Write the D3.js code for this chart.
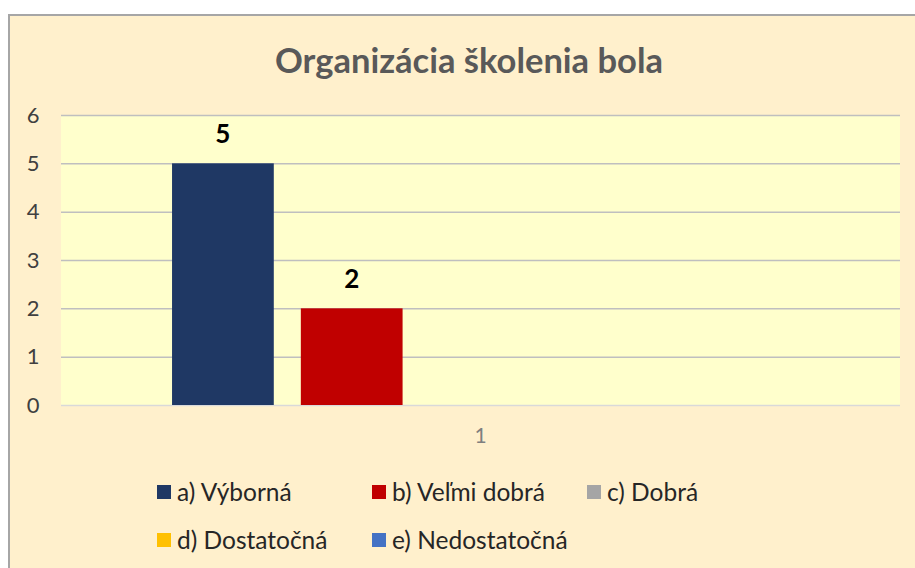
<!DOCTYPE html>
<html>
<meta charset="UTF-8">
<head>
    <script src="https://d3js.org/d3.v7.min.js"></script>
    <style>
        body {
            margin: 0;
            background: white;
            font-family: Lato, "Open Sans", sans-serif;
        }
    </style>
</head>
<body>
</body>
<script>
    // chart data
    let categories = ["1"];
    let seriesNames = ["a) Výborná", "b) Veľmi dobrá", "c) Dobrá", "d) Dostatočná", "e) Nedostatočná"];
    let seriesValues = [5, 2, 0, 0, 0];
    let seriesColors = ["#1F3864", "#C00000", "#A5A5A5", "#FFC000", "#4472C4"];
    let yTicks = [0, 1, 2, 3, 4, 5, 6];
    let title = "Organizácia školenia bola";

    let width = 915;
    let height = 568;
    let plot = {left: 61, right: 900, top: 115, bottom: 405};

    let svg = d3.select("body").append("svg")
        .attr("width", width)
        .attr("height", height);

    // chart area with border
    svg.append("rect")
        .attr("x", 9)
        .attr("y", 15)
        .attr("width", width)
        .attr("height", height)
        .attr("fill", "#FFF0CC")
        .attr("stroke", "#A6A6A6")
        .attr("stroke-width", 2);

    // plot area
    svg.append("rect")
        .attr("x", plot.left)
        .attr("y", plot.top)
        .attr("width", plot.right - plot.left)
        .attr("height", plot.bottom - plot.top)
        .attr("fill", "#FFFFCC");

    svg.append("text")
        .attr("x", 469)
        .attr("y", 73)
        .attr("text-anchor", "middle")
        .attr("font-size", "34.5px")
        .attr("font-weight", "bold")
        .attr("fill", "#595959")
        .text(title);

    let y = d3.scaleLinear()
        .domain([0, 6])
        .range([plot.bottom, plot.top]);

    let x0 = d3.scaleBand()
        .domain(categories)
        .range([plot.left, plot.right])
        .paddingInner(0)
        .paddingOuter(0.18);

    let x1 = d3.scaleBand()
        .domain(seriesNames)
        .range([0, x0.bandwidth()])
        .paddingInner(0.21)
        .paddingOuter(0);

    // gridlines + tick labels
    let yAxis = svg.append("g")
        .attr("transform", `translate(${plot.left},0)`)
        .call(d3.axisLeft(y)
            .tickValues(yTicks)
            .tickSize(-(plot.right - plot.left))
            .tickPadding(22)
            .tickFormat(d3.format("d")));
    yAxis.select(".domain").remove();
    yAxis.selectAll(".tick line")
        .attr("stroke", d => d == 0 ? "#D9D9D9" : "#BFBFBF")
        .attr("stroke-width", 1.5);
    yAxis.selectAll(".tick text")
        .attr("font-size", "22px")
        .attr("font-family", "Lato, sans-serif")
        .attr("fill", "#404040")
        .attr("text-anchor", "middle")
        .attr("dx", "-6px");

    // category axis label
    let xAxis = svg.append("g")
        .attr("transform", `translate(0,${plot.bottom})`)
        .call(d3.axisBottom(x0).tickSize(0).tickPadding(23));
    xAxis.select(".domain").remove();
    xAxis.selectAll(".tick text")
        .attr("font-size", "21px")
        .attr("font-family", "Lato, sans-serif")
        .attr("fill", "#7F7F7F");

    // bars
    let rows = [];
    for (let c of categories) {
        seriesNames.forEach((s, i) => rows.push({cat: c, name: s, value: seriesValues[i], color: seriesColors[i]}));
    }

    svg.append("g")
        .selectAll("rect")
        .data(rows)
        .join("rect")
        .attr("x", d => x0(d.cat) + x1(d.name))
        .attr("y", d => y(d.value))
        .attr("width", x1.bandwidth())
        .attr("height", d => y(0) - y(d.value))
        .attr("fill", d => d.color);

    // data labels, only for non-zero values
    svg.append("g")
        .selectAll("text")
        .data(rows.filter(d => d.value > 0))
        .join("text")
        .attr("x", d => x0(d.cat) + x1(d.name) + x1.bandwidth() / 2)
        .attr("y", d => y(d.value) - 20)
        .attr("text-anchor", "middle")
        .attr("font-size", "26px")
        .attr("font-weight", "bold")
        .attr("fill", "black")
        .text(d => d.value);

    // legend, 3 per row
    let legend = svg.append("g")
        .selectAll("g")
        .data(seriesNames)
        .join("g")
        .attr("transform", (d, i) => `translate(${157 + (i % 3) * 215},${492 + Math.floor(i / 3) * 48})`);

    legend.append("rect")
        .attr("x", 0)
        .attr("y", -7)
        .attr("width", 14)
        .attr("height", 14)
        .attr("fill", (d, i) => seriesColors[i]);

    legend.append("text")
        .attr("x", 20)
        .attr("y", 0)
        .attr("dy", "0.36em")
        .attr("font-size", "24.5px")
        .attr("fill", "#262626")
        .text(d => d);
</script>
</html>
